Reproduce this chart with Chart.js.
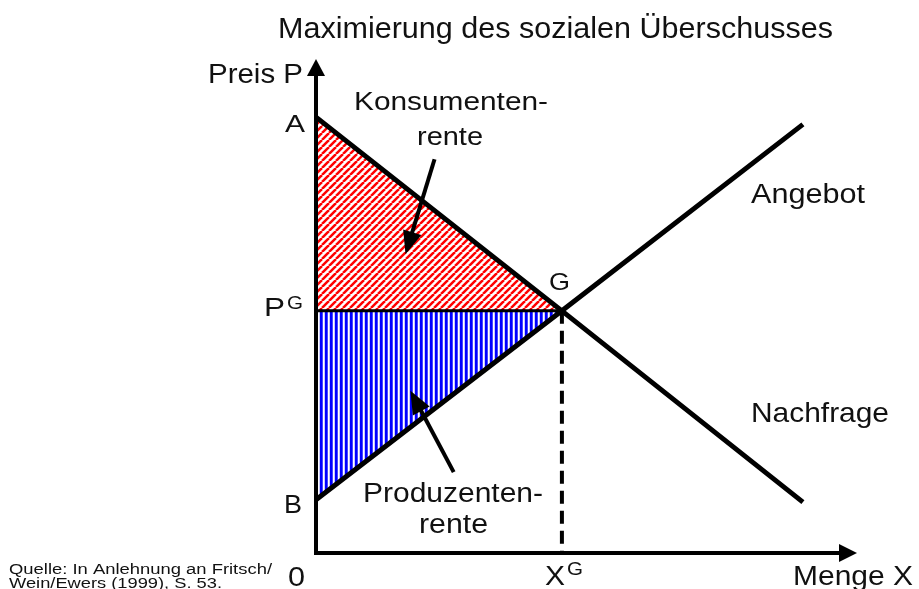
<!DOCTYPE html>
<html><head><meta charset="utf-8">
<script src="https://cdn.jsdelivr.net/npm/chart.js@4.4.1/dist/chart.umd.min.js"></script>
<style>html,body{margin:0;padding:0;background:#fff;}#wrap{width:919px;height:589px;}</style>
</head><body><div id="wrap"><canvas id="c" width="919" height="589"></canvas></div>
<script>
// ---- data ----
const quantityX = [0, 5, 9.9];          // Menge X
const demandP   = [9, 5, 1.05];         // Nachfrage
const supplyP   = [1.1, 5, 8.85];       // Angebot
const equilibriumX = 5;                 // X^G
const equilibriumP = 5;                 // P^G
const axisMaxX = 11;
const axisMaxY = 10.2;

const FONT = '"Liberation Sans", Arial, Helvetica, sans-serif';

function pts(xs, ys, n) { const out = []; for (let i = 0; i < (n || xs.length); i++) out.push({x: xs[i], y: ys[i]}); return out; }

function redHatch() {
  const s = 7, c = document.createElement('canvas'); c.width = s; c.height = s;
  const g = c.getContext('2d'); g.fillStyle = '#fff'; g.fillRect(0, 0, s, s);
  g.strokeStyle = '#ff0000'; g.lineWidth = 2.5;
  for (const k of [-s, 0, s]) { g.beginPath(); g.moveTo(k, s); g.lineTo(k + s, 0); g.stroke(); }
  return g.createPattern(c, 'repeat');
}
function blueHatch() {
  const c = document.createElement('canvas'); c.width = 5; c.height = 1;
  const g = c.getContext('2d');
  const cols = ['#0000ff', '#0000ff', '#4848ff', '#ffffff', '#c8c8ff'];
  cols.forEach((col, i) => { g.fillStyle = col; g.fillRect(i, 0, 1, 1); });
  return g.createPattern(c, 'repeat');
}

function txt(ctx, s, x, y, size, w) {
  ctx.save();
  ctx.font = size + 'px ' + FONT;
  ctx.textAlign = 'left'; ctx.textBaseline = 'alphabetic';
  const m = ctx.measureText(s).width;
  ctx.translate(x, y); ctx.scale(w / m, 1);
  ctx.fillStyle = '#111';
  ctx.fillText(s, 0, 0);
  ctx.restore();
}
function arrow(ctx, x1, y1, x2, y2, lw, hl, hw) {
  const dx = x2 - x1, dy = y2 - y1, L = Math.hypot(dx, dy), ux = dx / L, uy = dy / L;
  const bx = x2 - ux * hl, by = y2 - uy * hl;
  ctx.save();
  ctx.strokeStyle = '#000'; ctx.fillStyle = '#000'; ctx.lineWidth = lw; ctx.lineCap = 'butt';
  ctx.beginPath(); ctx.moveTo(x1, y1); ctx.lineTo(bx + ux * 2, by + uy * 2); ctx.stroke();
  ctx.beginPath(); ctx.moveTo(x2, y2);
  ctx.lineTo(bx - uy * hw / 2, by + ux * hw / 2);
  ctx.lineTo(bx + uy * hw / 2, by - ux * hw / 2);
  ctx.closePath(); ctx.fill();
  ctx.restore();
}

// annotation pointers in data units
const pointerKonsument = {from: [2.41, 8.13], to: [1.82, 6.17]};
const pointerProduzent = {from: [2.8, 1.67], to: [1.92, 3.35]};

const overlay = {
  id: 'overlay',
  afterDatasetsDraw(chart) {
    const ctx = chart.ctx, xs = chart.scales.x, ys = chart.scales.y;
    const X = v => xs.getPixelForValue(v), Y = v => ys.getPixelForValue(v);
    const x0 = X(0), y0 = Y(0), xT = X(axisMaxX), yT = Y(axisMaxY);
    ctx.save();
    ctx.strokeStyle = '#000'; ctx.lineWidth = 4;
    ctx.beginPath(); ctx.moveTo(x0, y0 + 2); ctx.lineTo(x0, yT + 14); ctx.stroke();
    ctx.beginPath(); ctx.moveTo(x0 - 2, y0); ctx.lineTo(xT - 14, y0); ctx.stroke();
    ctx.fillStyle = '#000';
    ctx.beginPath(); ctx.moveTo(x0, yT); ctx.lineTo(x0 - 9, yT + 17); ctx.lineTo(x0 + 9, yT + 17); ctx.closePath(); ctx.fill();
    ctx.beginPath(); ctx.moveTo(xT, y0); ctx.lineTo(xT - 18, y0 - 9); ctx.lineTo(xT - 18, y0 + 9); ctx.closePath(); ctx.fill();
    ctx.restore();

    arrow(ctx, X(pointerKonsument.from[0]), Y(pointerKonsument.from[1]), X(pointerKonsument.to[0]), Y(pointerKonsument.to[1]), 4, 23, 19);
    arrow(ctx, X(pointerProduzent.from[0]), Y(pointerProduzent.from[1]), X(pointerProduzent.to[0]), Y(pointerProduzent.to[1]), 4, 23, 19);

    txt(ctx, 'Maximierung des sozialen Überschusses', 278, 38, 29, 555);
    txt(ctx, 'Preis P', 208, 83, 28, 95);
    txt(ctx, 'A', 285, 132, 24, 20);
    txt(ctx, 'P', 264, 316, 26, 21);
    txt(ctx, 'G', 287, 309, 18, 16);
    txt(ctx, 'B', 284, 513, 25, 18);
    txt(ctx, '0', 288, 586, 28, 17);
    txt(ctx, 'X', 545, 585, 28, 20);
    txt(ctx, 'G', 567, 575, 18, 16);
    txt(ctx, 'Menge X', 793, 585, 28, 120);
    txt(ctx, 'G', 549, 290, 24, 21);
    txt(ctx, 'Angebot', 751, 203, 27, 114);
    txt(ctx, 'Nachfrage', 751, 422, 28, 138);
    txt(ctx, 'Konsumenten-', 354, 110, 25, 194);
    txt(ctx, 'rente', 417, 145, 25, 66);
    txt(ctx, 'Produzenten-', 363, 502, 27, 180);
    txt(ctx, 'rente', 419, 533, 27, 69);
    txt(ctx, 'Quelle: In Anlehnung an Fritsch/', 9, 574, 14, 263);
    txt(ctx, 'Wein/Ewers (1999), S. 53.', 9, 588, 14, 213);
  }
};

const base = {showLine: true, pointRadius: 0, pointHoverRadius: 0, clip: false, tension: 0};
new Chart(document.getElementById('c'), {
  type: 'scatter',
  data: {
    datasets: [
      Object.assign({}, base, {label: 'Konsumentenrente', order: 10, data: pts(quantityX, demandP, 2), borderWidth: 0, borderColor: 'rgba(0,0,0,0)', backgroundColor: redHatch(), fill: {value: equilibriumP}}),
      Object.assign({}, base, {label: 'Produzentenrente', order: 10, data: pts(quantityX, supplyP, 2), borderWidth: 0, borderColor: 'rgba(0,0,0,0)', backgroundColor: blueHatch(), fill: {value: equilibriumP}}),
      Object.assign({}, base, {label: 'PG', order: 3, data: [{x: 0, y: equilibriumP}, {x: equilibriumX, y: equilibriumP}], borderColor: '#000', borderWidth: 3, fill: false}),
      Object.assign({}, base, {label: 'XG', order: 3, data: [{x: equilibriumX, y: equilibriumP}, {x: equilibriumX, y: 0}], borderColor: '#000', borderWidth: 4, borderDash: [13, 7], fill: false}),
      Object.assign({}, base, {label: 'Nachfrage', order: 1, data: pts(quantityX, demandP), borderColor: '#000', borderWidth: 5, fill: false}),
      Object.assign({}, base, {label: 'Angebot', order: 1, data: pts(quantityX, supplyP), borderColor: '#000', borderWidth: 5, fill: false})
    ]
  },
  options: {
    responsive: false, animation: false, devicePixelRatio: 1,
    layout: {padding: {left: 316, right: 62, top: 59, bottom: 36}},
    plugins: {legend: {display: false}, title: {display: false}, tooltip: {enabled: false}},
    events: [],
    scales: {
      x: {type: 'linear', min: 0, max: axisMaxX, display: false},
      y: {type: 'linear', min: 0, max: axisMaxY, display: false}
    }
  },
  plugins: [overlay]
});
</script></body></html>
